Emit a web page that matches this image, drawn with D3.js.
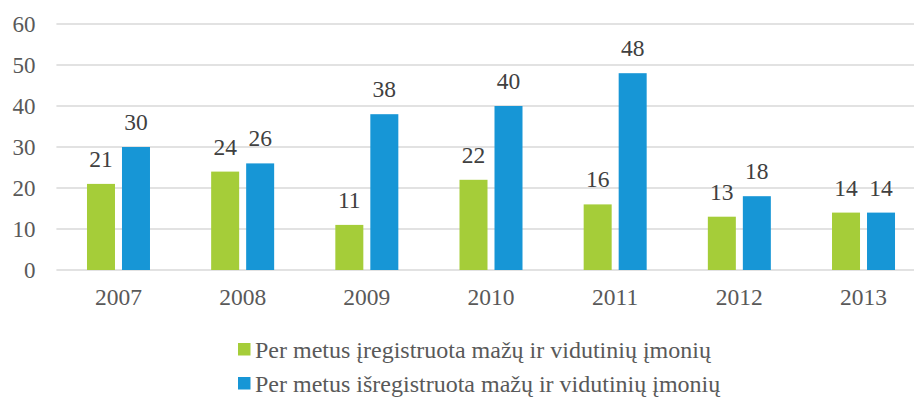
<!DOCTYPE html>
<html>
<head>
<meta charset="utf-8">
<script src="https://cdn.jsdelivr.net/npm/d3@7.9.0/dist/d3.min.js"></script>
<style>
  body { margin: 0; background: #fff; }
  svg { display: block; }
  svg text { font-family: "Liberation Serif", "Times New Roman", serif; }
</style>
</head>
<body>
<svg id="chart" width="914" height="402"></svg>
<script>
const years = ['2007', '2008', '2009', '2010', '2011', '2012', '2013'];
const registered = [21, 24, 11, 22, 16, 13, 14];
const deregistered = [30, 26, 38, 40, 48, 18, 14];
const seriesNames = [
  'Per metus įregistruota mažų ir vidutinių įmonių',
  'Per metus išregistruota mažų ir vidutinių įmonių'
];
const seriesColors = ['#a5cd39', '#1796d6'];
const yTicks = [0, 10, 20, 30, 40, 50, 60];

const svg = d3.select('#chart');
const plotLeft = 56.4, plotRight = 925.6, plotTop = 24, plotBottom = 270;

const x0 = d3.scaleBand().domain(years).range([plotLeft, plotRight]);
const step = x0.bandwidth();
const x1 = d3.scaleBand().domain([0, 1])
  .range([step / 2 - 31.5, step / 2 + 31.5]).paddingInner(0.2);
const y = d3.scaleLinear().domain([0, 60]).range([plotBottom, plotTop]);

// gridlines
svg.append('g')
  .selectAll('line')
  .data(yTicks)
  .join('line')
  .attr('x1', plotLeft).attr('x2', plotRight)
  .attr('y1', d => y(d)).attr('y2', d => y(d))
  .attr('stroke', '#d9d9d9')
  .attr('stroke-width', 1.4);

// y axis labels
svg.append('g')
  .selectAll('text')
  .data(yTicks)
  .join('text')
  .attr('x', 35.5)
  .attr('y', d => y(d) + 7.7)
  .attr('text-anchor', 'end')
  .attr('font-size', 23)
  .attr('fill', '#595959')
  .text(d => d);

// x axis labels
svg.append('g')
  .selectAll('text')
  .data(years)
  .join('text')
  .attr('x', d => x0(d) + step / 2)
  .attr('y', 305)
  .attr('text-anchor', 'middle')
  .attr('font-size', 23.5)
  .attr('fill', '#595959')
  .text(d => d);

const rows = years.map((yr, i) => ({ year: yr, values: [registered[i], deregistered[i]] }));

const groups = svg.append('g')
  .selectAll('g')
  .data(rows)
  .join('g')
  .attr('transform', d => `translate(${x0(d.year)},0)`);

groups.selectAll('rect')
  .data(d => d.values.map((v, s) => ({ v, s })))
  .join('rect')
  .attr('x', d => x1(d.s))
  .attr('width', x1.bandwidth())
  .attr('y', d => y(d.v))
  .attr('height', d => y(0) - y(d.v))
  .attr('fill', d => seriesColors[d.s]);

groups.selectAll('text')
  .data(d => d.values.map((v, s) => ({ v, s })))
  .join('text')
  .attr('x', d => x1(d.s) + x1.bandwidth() / 2)
  .attr('y', d => y(d.v) - 17)
  .attr('text-anchor', 'middle')
  .attr('font-size', 23.5)
  .attr('fill', '#404040')
  .text(d => d.v);

// legend
const legend = svg.append('g')
  .selectAll('g')
  .data(seriesNames)
  .join('g')
  .attr('transform', (d, i) => `translate(238,${343 + i * 34})`);

legend.append('rect')
  .attr('width', 12.5).attr('height', 12.5)
  .attr('fill', (d, i) => seriesColors[i]);

legend.append('text')
  .attr('x', 17)
  .attr('y', 15)
  .attr('font-size', 24)
  .attr('fill', '#595959')
  .text(d => d);
</script>
</body>
</html>
